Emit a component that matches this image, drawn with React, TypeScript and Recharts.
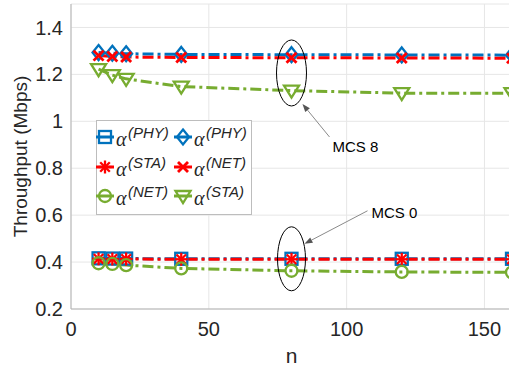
import { LineChart, Line, XAxis, YAxis, CartesianGrid, ReferenceDot, Legend, Label } from 'recharts';

// number of stations
const nValues = [10, 15, 20, 40, 80, 120, 160];

// MCS 0
const phyMcs0 = [0.416, 0.415, 0.415, 0.414, 0.414, 0.414, 0.414];
const staMcs0 = [0.414, 0.413, 0.413, 0.412, 0.412, 0.412, 0.412];
const netMcs0 = [0.395, 0.392, 0.387, 0.373, 0.363, 0.358, 0.356];

// MCS 8
const phyMcs8 = [1.293, 1.29, 1.288, 1.285, 1.284, 1.283, 1.282];
const netMcs8 = [1.28, 1.276, 1.274, 1.272, 1.271, 1.27, 1.269];
const staMcs8 = [1.222, 1.197, 1.181, 1.148, 1.131, 1.12, 1.12];

const xTicks = [0, 50, 100, 150];
const yTicks = [0.2, 0.4, 0.6, 0.8, 1, 1.2, 1.4];

const data = nValues.map((n, i) => ({
  n,
  phy0: phyMcs0[i],
  sta0: staMcs0[i],
  net0: netMcs0[i],
  phy8: phyMcs8[i],
  net8: netMcs8[i],
  sta8: staMcs8[i],
}));

const FONT = '"Liberation Sans", Arial, Helvetica, sans-serif';
const BLUE = '#0072BD';
const RED = '#FF0000';
const GREEN = '#77AC30';

type Kind = 'square' | 'asterisk' | 'circle' | 'diamond' | 'cross' | 'triangle';

const series: { key: string; color: string; kind: Kind; sup: string }[] = [
  { key: 'phy0', color: BLUE, kind: 'square', sup: '(PHY)' },
  { key: 'sta0', color: RED, kind: 'asterisk', sup: '(STA)' },
  { key: 'net0', color: GREEN, kind: 'circle', sup: '(NET)' },
  { key: 'phy8', color: BLUE, kind: 'diamond', sup: '(PHY)' },
  { key: 'net8', color: RED, kind: 'cross', sup: '(NET)' },
  { key: 'sta8', color: GREEN, kind: 'triangle', sup: '(STA)' },
];

function marker(kind: Kind, cx: number, cy: number, color: string) {
  const s = { stroke: color, strokeWidth: 2.3, fill: 'none' };
  switch (kind) {
    case 'square':
      return <rect x={cx - 6} y={cy - 6} width={12} height={12} {...s} />;
    case 'asterisk':
      return (
        <g {...s}>
          <line x1={cx - 6.5} y1={cy} x2={cx + 6.5} y2={cy} />
          <line x1={cx} y1={cy - 6.5} x2={cx} y2={cy + 6.5} />
          <line x1={cx - 4.8} y1={cy - 4.8} x2={cx + 4.8} y2={cy + 4.8} />
          <line x1={cx - 4.8} y1={cy + 4.8} x2={cx + 4.8} y2={cy - 4.8} />
        </g>
      );
    case 'circle':
      return <circle cx={cx} cy={cy} r={6} {...s} />;
    case 'diamond':
      return <polygon points={`${cx},${cy - 7.5} ${cx + 6},${cy} ${cx},${cy + 7.5} ${cx - 6},${cy}`} {...s} />;
    case 'cross':
      return (
        <g {...s} strokeWidth={2.8}>
          <line x1={cx - 5} y1={cy - 5} x2={cx + 5} y2={cy + 5} />
          <line x1={cx - 5} y1={cy + 5} x2={cx + 5} y2={cy - 5} />
        </g>
      );
    case 'triangle':
      return <polygon points={`${cx - 7.5},${cy - 5} ${cx + 7.5},${cy - 5} ${cx},${cy + 7}`} {...s} />;
  }
}

function arrow(x1: number, y1: number, x2: number, y2: number) {
  const a = Math.atan2(y2 - y1, x2 - x1);
  const len = 8;
  const w = 3;
  const bx = x2 - len * Math.cos(a);
  const by = y2 - len * Math.sin(a);
  const px = -Math.sin(a) * w;
  const py = Math.cos(a) * w;
  return (
    <g>
      <line x1={x1} y1={y1} x2={bx} y2={by} stroke="#8a8a8a" strokeWidth={1} />
      <polygon points={`${x2},${y2} ${bx + px},${by + py} ${bx - px},${by - py}`} fill="#555" />
    </g>
  );
}

const LegendBox = () => {
  const rows = [17, 47, 76];
  const cols = [9, 87];
  return (
    <svg width={156} height={95} style={{ display: 'block' }}>
      <rect x={0.5} y={0.5} width={155} height={94} fill="#fff" stroke="#bdbdbd" />
      {series.map((s, i) => {
        const cx = cols[Math.floor(i / 3)];
        const cy = rows[i % 3];
        return (
          <g key={s.key}>
            <line x1={cx - 9} y1={cy} x2={cx + 9} y2={cy} stroke={s.color} strokeWidth={3} />
            {marker(s.kind, cx, cy, s.color)}
            <text x={cx + 11} y={cy + 9} fontFamily='"Liberation Serif", "DejaVu Serif", serif' fontStyle="italic" fontSize={20} fill="#262626">α</text>
            <text x={cx + 23} y={cy + 1} fontFamily={FONT} fontStyle="italic" fontSize={15} fill="#262626">{s.sup}</text>
          </g>
        );
      })}
    </svg>
  );
};

const Mcs8Note = (p: any) => {
  const { cx, cy } = p;
  return (
    <g>
      <ellipse cx={cx} cy={cy} rx={15} ry={33} fill="none" stroke="#000" strokeWidth={1} />
      {arrow(cx + 38, cy + 64, cx + 11, cy + 31)}
      <text x={cx + 41} y={cy + 79} fontFamily={FONT} fontSize={15} fill="#000">MCS 8</text>
    </g>
  );
};

const Mcs0Note = (p: any) => {
  const { cx, cy } = p;
  return (
    <g>
      <ellipse cx={cx} cy={cy} rx={14} ry={32} fill="none" stroke="#000" strokeWidth={1} />
      {arrow(cx + 76, cy - 48, cx + 13, cy - 15)}
      <text x={cx + 80} y={cy - 41} fontFamily={FONT} fontSize={15} fill="#000">MCS 0</text>
    </g>
  );
};

const App = () => {
  const tick = { fontSize: 20, fill: '#262626', fontFamily: FONT };
  return (
    <div style={{ position: 'absolute', left: 0, top: 0, width: 509, height: 366, overflow: 'hidden', background: '#fff' }}>
      <LineChart width={530} height={366} data={data} margin={{ top: 4, right: 18, left: 0, bottom: 0 }}>
        <CartesianGrid stroke="#e6e6e6" />
        <XAxis
          dataKey="n"
          type="number"
          domain={[0, 160]}
          ticks={xTicks}
          allowDataOverflow
          height={57}
          tickSize={0}
          tickMargin={13}
          tick={tick}
          stroke="#b3b3b3"
        >
          <Label
            content={({ viewBox }: any) => (
              <text x={viewBox.x + viewBox.width / 2} y={viewBox.y + 54} textAnchor="middle" fontFamily={FONT} fontSize={21} fill="#262626">n</text>
            )}
          />
        </XAxis>
        <YAxis
          type="number"
          domain={[0.2, 1.5]}
          ticks={yTicks}
          allowDataOverflow
          width={71}
          tickSize={0}
          tickMargin={8}
          tick={tick}
          stroke="#b3b3b3"
        >
          <Label
            content={({ viewBox }: any) => {
              const y = viewBox.y + viewBox.height / 2;
              return (
                <text x={20} y={y} transform={`rotate(-90 20 ${y})`} textAnchor="middle" dominantBaseline="central" fontFamily={FONT} fontSize={19} fill="#262626">
                  Throughput (Mbps)
                </text>
              );
            }}
          />
        </YAxis>
        {series.map((s) => (
          <Line
            key={s.key}
            dataKey={s.key}
            stroke={s.color}
            strokeWidth={3}
            strokeDasharray="11 4 3 4"
            isAnimationActive={false}
            dot={(p: any) => <g key={`${s.key}-${p.index}`}>{marker(s.kind, p.cx, p.cy, s.color)}</g>}
            activeDot={false}
          />
        ))}
        <ReferenceDot x={80} y={1.206} r={0} shape={Mcs8Note} ifOverflow="visible" />
        <ReferenceDot x={80} y={0.414} r={0} shape={Mcs0Note} ifOverflow="visible" />
        <Legend
          verticalAlign="middle"
          align="center"
          layout="horizontal"
          content={() => <LegendBox />}
          wrapperStyle={{ left: 96, top: 120, width: 156, height: 95 }}
        />
      </LineChart>
    </div>
  );
};

export default App;
